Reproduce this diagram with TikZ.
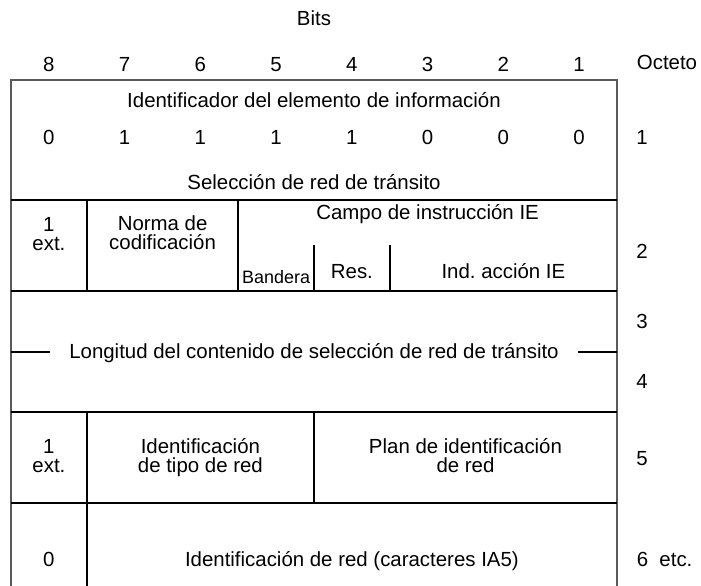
\documentclass[tikz,border=0pt]{standalone}
\usepackage{fontspec}
\setmainfont{Liberation Sans}
\frenchspacing
\begin{document}
\begin{tikzpicture}[x=1bp,y=-1bp,
  txt/.style={inner sep=0pt,anchor=base,font=\fontsize{20.5}{16}\selectfont},
  small/.style={inner sep=0pt,anchor=base,font=\fontsize{18}{16}\selectfont},
  outer/.style={draw=black!65,line width=1.2bp},
  inner/.style={draw=black,line width=1.9bp}]
\useasboundingbox (0,0) rectangle (701,586);
% outer frame
\draw[outer] (11,586) -- (11,80) -- (617,80) -- (617,586);
% horizontal separators
\foreach \yy in {200,291,412,503}
  \draw[inner] (11,\yy) -- (617,\yy);
% octet 2 verticals
\draw[inner] (87,200) -- (87,291);
\draw[inner] (238.25,200) -- (238.25,291);
\draw[inner] (314,245) -- (314,291);
\draw[inner] (389.75,245) -- (389.75,291);
% octet 3/4 ticks
\draw[inner] (11,352) -- (50,352);
\draw[inner] (578,352) -- (617,352);
% octet 5 and 6 verticals
\draw[inner] (87,412) -- (87,503);
\draw[inner] (314,412) -- (314,503);
\draw[inner] (87,503) -- (87,586);
% header
\node[txt] (bits) at (314,26) {Bits};
\foreach \b [count=\i from 0] in {8,7,6,5,4,3,2,1}
  \node[txt] (b\b) at ({48.9+75.75*\i},72) {\b};
\node[txt] (octeto) at (667,70) {Octeto};
% octet 1
\node[txt] (ident) at (314,108) {Identificador del elemento de información};
\foreach \v [count=\i from 0] in {0,1,1,1,1,0,0,0}
  \node[txt] (v\i) at ({48.9+75.75*\i},145) {\v};
\node[txt] (sel) at (314,190) {Selección de red de tránsito};
\node[txt] (o1) at (642,145) {1};
% octet 2
\node[txt] (ext2a) at (48.9,231) {1};
\node[txt] (ext2b) at (48.9,250) {ext.};
\node[txt] (normaa) at (162.6,230) {Norma de};
\node[txt] (normab) at (162.6,249) {codificación};
\node[txt] (campo) at (427.6,219) {Campo de instrucción IE};
\node[small] (band) at (276.1,283) {Bandera};
\node[txt] (res) at (351.9,278) {Res.};
\node[txt] (ind) at (503.4,278) {Ind. acción IE};
\node[txt] (o2) at (642,258) {2};
% octets 3 and 4
\node[txt] (long) at (314,358) {Longitud del contenido de selección de red de tránsito};
\node[txt] (o3) at (642,328) {3};
\node[txt] (o4) at (642,388) {4};
% octet 5
\node[txt] (ext5a) at (48.9,453) {1};
\node[txt] (ext5b) at (48.9,472) {ext.};
\node[txt] (tipoa) at (200.4,453) {Identificación};
\node[txt] (tipob) at (200.4,472) {de tipo de red};
\node[txt] (plana) at (465.5,453) {Plan de identificación};
\node[txt] (planb) at (465.5,472) {de red};
\node[txt] (o5) at (642,465) {5};
% octet 6
\node[txt] (zero) at (48.9,566) {0};
\node[txt] (idred) at (351.9,566) {Identificación de red (caracteres IA5)};
\node[txt,anchor=base west] (o6) at (636.6,566) {6\ \ etc.};
\end{tikzpicture}
\end{document}
